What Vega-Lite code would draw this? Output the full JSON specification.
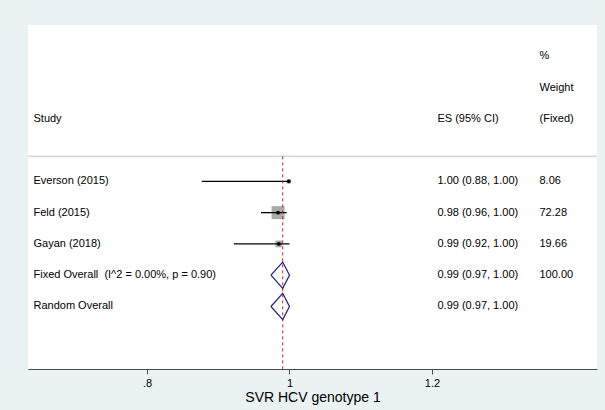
{
  "$schema": "https://vega.github.io/schema/vega-lite/v6.json",
  "width": 569,
  "height": 344,
  "autosize": {"type": "none"},
  "padding": {"left": 28, "top": 25, "right": 8, "bottom": 41},
  "background": "#EAF2F3",
  "config": {
    "view": {"fill": "white", "stroke": null},
    "font": "Liberation Sans",
    "axisX": {
      "domainColor": "#4a4a4a",
      "domainWidth": 1.2,
      "tickColor": "#4a4a4a",
      "tickSize": 5,
      "tickWidth": 1,
      "labelFont": "Liberation Sans",
      "labelFontSize": 11,
      "labelColor": "#000000",
      "labelPadding": 3,
      "titleFont": "Liberation Sans",
      "titleFontSize": 14,
      "titleFontWeight": "normal",
      "titleColor": "#000000",
      "titlePadding": 2,
      "grid": false
    }
  },
  "datasets": {
    "studies": [
      {"study": "Everson (2015)", "row": 1, "es": 0.999, "lo": 0.877, "hi": 1.0, "wt": 8.06},
      {"study": "Feld (2015)", "row": 2, "es": 0.984, "lo": 0.96, "hi": 0.996, "wt": 72.28},
      {"study": "Gayan (2018)", "row": 3, "es": 0.985, "lo": 0.922, "hi": 1.0, "wt": 19.66}
    ],
    "overall": [{"es": 0.9905}],
    "diamonds": [
      {"pool": "Fixed", "ord": 1, "px": 0.974, "py": 4},
      {"pool": "Fixed", "ord": 2, "px": 0.9905, "py": 3.58},
      {"pool": "Fixed", "ord": 3, "px": 1.0, "py": 4},
      {"pool": "Fixed", "ord": 4, "px": 0.9905, "py": 4.42},
      {"pool": "Fixed", "ord": 5, "px": 0.974, "py": 4},
      {"pool": "Random", "ord": 1, "px": 0.974, "py": 5},
      {"pool": "Random", "ord": 2, "px": 0.9905, "py": 4.58},
      {"pool": "Random", "ord": 3, "px": 1.0, "py": 5},
      {"pool": "Random", "ord": 4, "px": 0.9905, "py": 5.42},
      {"pool": "Random", "ord": 5, "px": 0.974, "py": 5}
    ],
    "table": [
      {"row": -3, "label": "", "ci": "", "w": "%"},
      {"row": -2, "label": "", "ci": "", "w": "Weight"},
      {"row": -1, "label": "Study", "ci": "ES (95% CI)", "w": "(Fixed)"},
      {"row": 1, "label": "Everson (2015)", "ci": "1.00 (0.88, 1.00)", "w": "8.06"},
      {"row": 2, "label": "Feld (2015)", "ci": "0.98 (0.96, 1.00)", "w": "72.28"},
      {"row": 3, "label": "Gayan (2018)", "ci": "0.99 (0.92, 1.00)", "w": "19.66"},
      {"row": 4, "label": "Fixed Overall \u00a0(I^2 = 0.00%, p = 0.90)", "ci": "0.99 (0.97, 1.00)", "w": "100.00"},
      {"row": 5, "label": "Random Overall", "ci": "0.99 (0.97, 1.00)", "w": ""}
    ]
  },
  "layer": [
    {
      "data": {"name": "overall"},
      "mark": {"type": "rule", "color": "#D9D9D9", "strokeWidth": 1.6},
      "encoding": {
        "y": {"datum": 0.2, "type": "quantitative", "scale": {"domain": [-4, 7], "reverse": true, "nice": false, "zero": false}, "axis": null}
      }
    },
    {
      "data": {"name": "studies"},
      "mark": {"type": "square", "color": "#ABABAB", "opacity": 1, "filled": true},
      "encoding": {
        "x": {"field": "es", "type": "quantitative", "scale": {"domain": [0.633, 1.4316], "nice": false, "zero": false},
          "axis": {"title": "SVR HCV genotype 1", "values": [0.8, 1, 1.2], "format": "~g", "labelExpr": "substring(datum.label, 0, 1) == '0' ? substring(datum.label, 1) : datum.label"}},
        "y": {"field": "row", "type": "quantitative", "scale": {"domain": [-4, 7], "reverse": true, "nice": false, "zero": false}, "axis": null},
        "size": {"field": "wt", "type": "quantitative", "scale": {"domain": [0, 72.28], "range": [0, 169]}, "legend": null}
      }
    },
    {
      "data": {"name": "studies"},
      "mark": {"type": "rule", "color": "#000000", "strokeWidth": 1.3},
      "encoding": {
        "x": {"field": "lo", "type": "quantitative", "scale": {"domain": [0.633, 1.4316], "nice": false, "zero": false},
          "axis": {"title": "SVR HCV genotype 1", "values": [0.8, 1, 1.2], "format": "~g", "labelExpr": "substring(datum.label, 0, 1) == '0' ? substring(datum.label, 1) : datum.label"}},
        "x2": {"field": "hi"},
        "y": {"field": "row", "type": "quantitative", "scale": {"domain": [-4, 7], "reverse": true, "nice": false, "zero": false}, "axis": null}
      }
    },
    {
      "data": {"name": "overall"},
      "mark": {"type": "rule", "color": "#B8262C", "strokeWidth": 1, "strokeDash": [3, 3]},
      "encoding": {
        "x": {"field": "es", "type": "quantitative", "scale": {"domain": [0.633, 1.4316], "nice": false, "zero": false},
          "axis": {"title": "SVR HCV genotype 1", "values": [0.8, 1, 1.2], "format": "~g", "labelExpr": "substring(datum.label, 0, 1) == '0' ? substring(datum.label, 1) : datum.label"}},
        "y": {"datum": 0.2, "type": "quantitative", "scale": {"domain": [-4, 7], "reverse": true, "nice": false, "zero": false}, "axis": null},
        "y2": {"datum": 7}
      }
    },
    {
      "data": {"name": "studies"},
      "mark": {"type": "circle", "color": "#000000", "opacity": 1, "size": 14},
      "encoding": {
        "x": {"field": "es", "type": "quantitative", "scale": {"domain": [0.633, 1.4316], "nice": false, "zero": false},
          "axis": {"title": "SVR HCV genotype 1", "values": [0.8, 1, 1.2], "format": "~g", "labelExpr": "substring(datum.label, 0, 1) == '0' ? substring(datum.label, 1) : datum.label"}},
        "y": {"field": "row", "type": "quantitative", "scale": {"domain": [-4, 7], "reverse": true, "nice": false, "zero": false}, "axis": null}
      }
    },
    {
      "data": {"name": "diamonds"},
      "mark": {"type": "line", "color": "#282880", "strokeWidth": 1.3, "strokeJoin": "miter"},
      "encoding": {
        "x": {"field": "px", "type": "quantitative", "scale": {"domain": [0.633, 1.4316], "nice": false, "zero": false},
          "axis": {"title": "SVR HCV genotype 1", "values": [0.8, 1, 1.2], "format": "~g", "labelExpr": "substring(datum.label, 0, 1) == '0' ? substring(datum.label, 1) : datum.label"}},
        "y": {"field": "py", "type": "quantitative", "scale": {"domain": [-4, 7], "reverse": true, "nice": false, "zero": false}, "axis": null},
        "detail": {"field": "pool"},
        "order": {"field": "ord", "type": "quantitative"}
      }
    },
    {
      "data": {"name": "table"},
      "mark": {"type": "text", "align": "left", "baseline": "middle", "fontSize": 11, "color": "#000000", "font": "Liberation Sans"},
      "encoding": {
        "x": {"datum": 0.6407, "type": "quantitative", "scale": {"domain": [0.633, 1.4316], "nice": false, "zero": false},
          "axis": {"title": "SVR HCV genotype 1", "values": [0.8, 1, 1.2], "format": "~g", "labelExpr": "substring(datum.label, 0, 1) == '0' ? substring(datum.label, 1) : datum.label"}},
        "y": {"field": "row", "type": "quantitative", "scale": {"domain": [-4, 7], "reverse": true, "nice": false, "zero": false}, "axis": null},
        "text": {"field": "label"}
      }
    },
    {
      "data": {"name": "table"},
      "mark": {"type": "text", "align": "left", "baseline": "middle", "fontSize": 11, "color": "#000000", "font": "Liberation Sans"},
      "encoding": {
        "x": {"datum": 1.2077, "type": "quantitative", "scale": {"domain": [0.633, 1.4316], "nice": false, "zero": false},
          "axis": {"title": "SVR HCV genotype 1", "values": [0.8, 1, 1.2], "format": "~g", "labelExpr": "substring(datum.label, 0, 1) == '0' ? substring(datum.label, 1) : datum.label"}},
        "y": {"field": "row", "type": "quantitative", "scale": {"domain": [-4, 7], "reverse": true, "nice": false, "zero": false}, "axis": null},
        "text": {"field": "ci"}
      }
    },
    {
      "data": {"name": "table"},
      "mark": {"type": "text", "align": "left", "baseline": "middle", "fontSize": 11, "color": "#000000", "font": "Liberation Sans"},
      "encoding": {
        "x": {"datum": 1.3509, "type": "quantitative", "scale": {"domain": [0.633, 1.4316], "nice": false, "zero": false},
          "axis": {"title": "SVR HCV genotype 1", "values": [0.8, 1, 1.2], "format": "~g", "labelExpr": "substring(datum.label, 0, 1) == '0' ? substring(datum.label, 1) : datum.label"}},
        "y": {"field": "row", "type": "quantitative", "scale": {"domain": [-4, 7], "reverse": true, "nice": false, "zero": false}, "axis": null},
        "text": {"field": "w"}
      }
    }
  ]
}
